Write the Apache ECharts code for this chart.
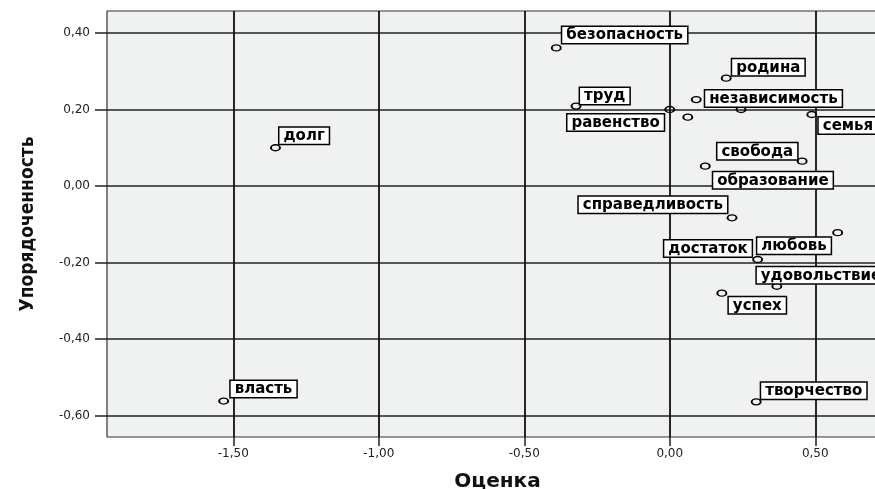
<!DOCTYPE html>
<html>
<head>
<meta charset="utf-8">
<script src="https://cdn.jsdelivr.net/npm/echarts@6/dist/echarts.min.js"></script>
<style>
html,body{margin:0;padding:0;background:#fff;}
#chart{width:875px;height:489px;}
</style>
</head>
<body>
<div id="chart"></div>
<script>
// ---- data ----
const pointNames = ['безопасность','родина','труд','независимость','равенство','','','семья','долг',
  'свобода','образование','справедливость','любовь','достаток','удовольствие','успех','власть','творчество'];
const xValues = [-0.390, 0.194, -0.322, 0.091, 0.000, 0.245, 0.062, 0.488, -1.355,
  0.455, 0.122, 0.214, 0.577, 0.302, 0.368, 0.179, -1.533, 0.297];
const yValues = [0.361, 0.282, 0.209, 0.226, 0.200, 0.200, 0.180, 0.187, 0.100,
  0.065, 0.052, -0.083, -0.122, -0.192, -0.262, -0.280, -0.562, -0.564];
const xTicks = [-1.5, -1.0, -0.5, 0.0, 0.5];
const yTicks = [-0.6, -0.4, -0.2, 0.0, 0.2, 0.4];
const xTitle = 'Оценка';
const yTitle = 'Упорядоченность';

// ---- label placement (style only) ----
const labelPlace = {
  'безопасность': ['left','bottom', 6, -5],
  'родина': ['left','bottom', 6, -3],
  'труд': ['left','bottom', 4, -2],
  'независимость': ['left','top', 9, -9],
  'равенство': ['right','top', -6, 5],
  'семья': ['left','top', 7, 3],
  'долг': ['left','bottom', 4, -4],
  'свобода': ['right','bottom', -5, -2],
  'образование': ['left','top', 8, 6],
  'справедливость': ['right','bottom', -5, -5],
  'любовь': ['right','top', -7, 5],
  'достаток': ['right','bottom', -6, -3],
  'удовольствие': ['left','bottom', -20, -3],
  'успех': ['left','top', 7, 4],
  'власть': ['left','bottom', 7, -4],
  'творчество': ['left','bottom', 5, -3]
};

const fmt = v => v.toFixed(2).replace('.', ',');

const data = pointNames.map((n, i) => {
  const item = { value: [xValues[i], yValues[i]], name: n };
  const p = labelPlace[n];
  if (n && p) {
    item.label = { show: true, position: 'inside', align: p[0], verticalAlign: p[1], offset: [p[2], p[3]] };
  } else {
    item.label = { show: false };
  }
  return item;
});

const chart = echarts.init(document.getElementById('chart'), null, { renderer: 'canvas' });
chart.setOption({
  animation: false,
  backgroundColor: '#ffffff',
  grid: {
    left: 107, top: 11, width: 781, height: 426,
    outerBoundsMode: 'none', containLabel: false,
    show: true, backgroundColor: '#f0f1f1', borderColor: '#333', borderWidth: 1.2
  },
  xAxis: {
    type: 'value', min: -1.934, max: 0.75, splitNumber: 5,
    name: xTitle, nameLocation: 'middle', nameGap: 35,
    nameTextStyle: { fontFamily: 'DejaVu Sans', fontWeight: 'bold', fontSize: 20, color: '#111' },
    axisLine: { show: false, onZero: false },
    axisTick: { show: true, length: 9, customValues: xTicks, lineStyle: { color: '#222', width: 1.5 } },
    axisLabel: { customValues: xTicks, formatter: fmt, margin: 11,
      fontFamily: 'DejaVu Sans', fontSize: 12, color: '#222' },
    splitLine: { show: true, lineStyle: { color: '#111', width: 1.8 } }
  },
  yAxis: {
    type: 'value', min: -0.656, max: 0.4575, splitNumber: 5,
    name: yTitle, nameLocation: 'middle', nameGap: 69, nameRotate: 90,
    nameTextStyle: { fontFamily: 'DejaVu Sans Condensed, Liberation Sans Narrow, DejaVu Sans', fontWeight: 'bold', fontSize: 19, color: '#111' },
    axisLine: { show: false, onZero: false },
    axisTick: { show: true, length: 12, customValues: yTicks, lineStyle: { color: '#222', width: 1.5 } },
    axisLabel: { customValues: yTicks, formatter: fmt, margin: 17,
      fontFamily: 'DejaVu Sans', fontSize: 12, color: '#222' },
    splitLine: { show: true, lineStyle: { color: '#222', width: 1.6 } }
  },
  series: [{
    type: 'scatter',
    symbol: 'circle',
    symbolSize: [9, 6],
    itemStyle: { color: 'rgba(0,0,0,0)', borderColor: '#000', borderWidth: 1.6, opacity: 1 },
    label: {
      formatter: '{b}',
      color: '#000',
      fontFamily: 'DejaVu Sans',
      fontWeight: 'bold',
      fontSize: 15,
      lineHeight: 13,
      backgroundColor: '#ffffff',
      borderColor: '#000',
      borderWidth: 1.5,
      padding: [2, 4, 1, 4]
    },
    emphasis: { disabled: true },
    data: data
  }]
});
</script>
</body>
</html>
